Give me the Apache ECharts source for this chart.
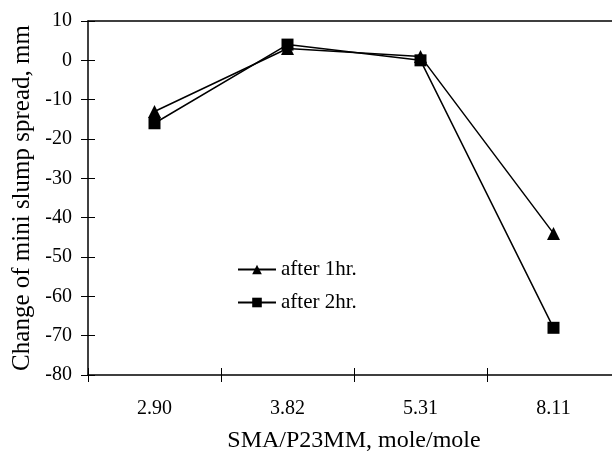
<!DOCTYPE html>
<html><head><meta charset="utf-8">
<script src="https://cdn.jsdelivr.net/npm/echarts@6/dist/echarts.min.js"></script>
<style>html,body{margin:0;padding:0;background:#fff}#c{width:612px;height:451px}</style>
</head><body><div id="c"></div>
<script>
const categories = ['2.90', '3.82', '5.31', '8.11'];
const after1hr = [-13, 3, 1, -44];
const after2hr = [-16, 4, 0, -68];
const yMin = -80, yMax = 10, yStep = 10;

const font = 'Liberation Serif, Times New Roman, serif';
const chart = echarts.init(document.getElementById('c'), null, {renderer: 'canvas'});
const axisLine = {show: true, onZero: false, lineStyle: {color: '#000', width: 1.5}};
chart.setOption({
  animation: false,
  backgroundColor: '#fff',
  textStyle: {fontFamily: font, color: '#000'},
  grid: {left: 88, right: -8, top: 21, bottom: 76, containLabel: false, outerBoundsMode: 'none'},
  legend: {
    orient: 'vertical', left: 232, top: 254, itemWidth: 38, itemHeight: 12, itemGap: 12,
    textStyle: {fontFamily: font, fontSize: 21, color: '#000'},
    data: ['after 1hr.', 'after 2hr.']
  },
  xAxis: [
    {type: 'category', data: categories, position: 'bottom', boundaryGap: true,
     axisLine: axisLine, axisTick: {show: true, inside: false, length: 7, lineStyle: {color: '#000', width: 1}},
     axisLabel: {fontFamily: font, fontSize: 20, color: '#000', margin: 24},
     name: 'SMA/P23MM, mole/mole', nameLocation: 'middle', nameGap: 54,
     nameTextStyle: {fontFamily: font, fontSize: 24, color: '#000'}},
    {type: 'category', data: categories, position: 'bottom', boundaryGap: true,
     axisLine: {show: false, onZero: false}, axisTick: {show: true, inside: true, length: 7, lineStyle: {color: '#000', width: 1}},
     axisLabel: {show: false}},
    {type: 'category', data: categories, position: 'top', boundaryGap: true,
     axisLine: axisLine, axisTick: {show: false}, axisLabel: {show: false}}
  ],
  yAxis: [
    {type: 'value', min: yMin, max: yMax, interval: yStep,
     axisLine: axisLine, axisTick: {show: true, inside: false, length: 7, lineStyle: {color: '#000', width: 1}},
     splitLine: {show: false},
     axisLabel: {fontFamily: font, fontSize: 20, color: '#000', margin: 16},
     name: 'Change of mini slump spread, mm', nameLocation: 'middle', nameGap: 52,
     nameTextStyle: {fontFamily: font, fontSize: 25, color: '#000'}},
    {type: 'value', min: yMin, max: yMax, interval: yStep, position: 'left',
     axisLine: {show: false}, axisTick: {show: true, inside: true, length: 7, lineStyle: {color: '#000', width: 1}},
     splitLine: {show: false}, axisLabel: {show: false}}
  ],
  series: [
    {name: 'after 1hr.', type: 'line', data: after1hr, xAxisIndex: 0, yAxisIndex: 0,
     symbol: 'triangle', symbolSize: 13, lineStyle: {color: '#000', width: 1.5},
     itemStyle: {color: '#000'}},
    {name: 'after 2hr.', type: 'line', data: after2hr, xAxisIndex: 0, yAxisIndex: 0,
     symbol: 'rect', symbolSize: 12, lineStyle: {color: '#000', width: 1.5},
     itemStyle: {color: '#000'}}
  ]
});
</script></body></html>
